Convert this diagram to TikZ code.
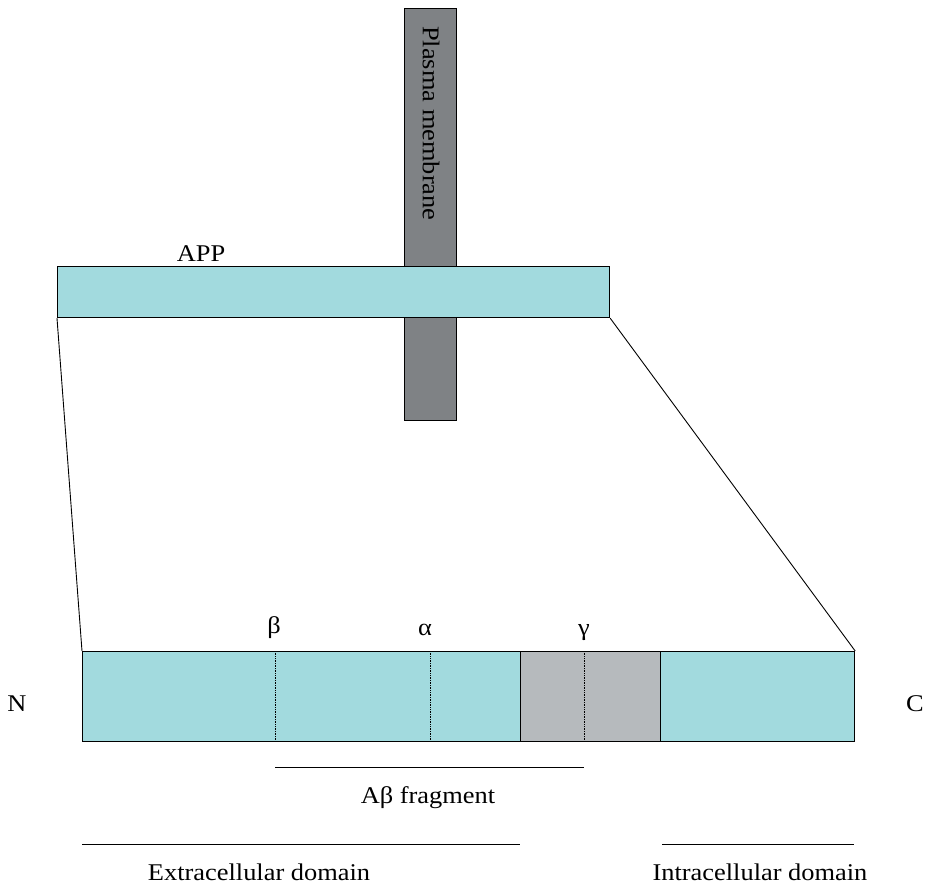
\documentclass[tikz,border=0pt]{standalone}
\usepackage{fontspec}
\setmainfont{Liberation Serif}
\usepackage{tikz}
\usetikzlibrary{positioning}
\definecolor{apptone}{RGB}{162,218,222}
\definecolor{memtone}{RGB}{127,130,133}
\definecolor{tmtone}{RGB}{182,186,189}
\newcommand{\widetxt}[1]{\scalebox{1.1}[1]{#1}}
\tikzset{
	block/.style={draw, line width=1.2pt, inner sep=0pt, anchor=north west},
	link/.style={line width=0.9pt},
	cut/.style={densely dotted, line width=0.7pt},
	lbl/.style={font=\fontsize{24}{26}\selectfont, inner sep=0pt, anchor=base}
}

\begin{document}
\begin{tikzpicture}[x=1pt, y=-1pt]
	\useasboundingbox (0,0) rectangle (930,884);
	% membrane and APP
		\node[block, fill=memtone, minimum width=52pt, minimum height=412pt] (mem) at (404,8) {};
		\node[lbl, rotate=-90, anchor=west] (memtxt) at (431,26) {\widetxt{Plasma membrane}};
		\node[block, fill=apptone, minimum width=552pt, minimum height=51pt] (app) at (57,266) {};
		\node[lbl] (apptxt) at (201,261) {\widetxt{APP}};

	% zoomed APP
		\node[block, fill=apptone, minimum width=438pt, minimum height=90pt] (ext) at (82,651) {};
		\node[block, fill=tmtone, minimum width=140pt, minimum height=90pt] (tm) at (520,651) {};
		\node[block, fill=apptone, minimum width=194pt, minimum height=90pt] (intra) at (660,651) {};
		\draw[link] (app.south west) -- (ext.north west);
		\draw[link] (app.south east) -- (intra.north east);

		\coordinate (b) at (275,651);
		\coordinate (a) at (430,651);
		\coordinate (g) at (584,651);
		\draw[cut] (b) -- (b |- ext.south);
		\draw[cut] (a) -- (a |- ext.south);
		\draw[cut] (g) -- (g |- tm.south);
		\node[lbl] (btxt) at (274,633) {\widetxt{β}};
		\node[lbl] (atxt) at (425,635) {\widetxt{α}};
		\node[lbl] (gtxt) at (584,635) {\widetxt{γ}};

		\node[lbl] (ntxt) at (17,711) {\widetxt{N}};
		\node[lbl] (ctxt) at (915,711) {\widetxt{C}};

	% domains
		\coordinate (ab1) at (275,767);
		\coordinate (ab2) at (584,767);
		\draw[link] (ab1) -- (ab2);
		\node[lbl] (abtxt) at (428,803) {\widetxt{Aβ fragment}};
		\coordinate (ex1) at (82,844);
		\coordinate (ex2) at (520,844);
		\draw[link] (ex1) -- (ex2);
		\node[lbl] (extxt) at (259,880) {\widetxt{Extracellular domain}};
		\coordinate (in1) at (662,844);
		\coordinate (in2) at (854,844);
		\draw[link] (in1) -- (in2);
		\node[lbl] (intxt) at (760,880) {\widetxt{Intracellular domain}};
	\end{tikzpicture}
\end{document}
